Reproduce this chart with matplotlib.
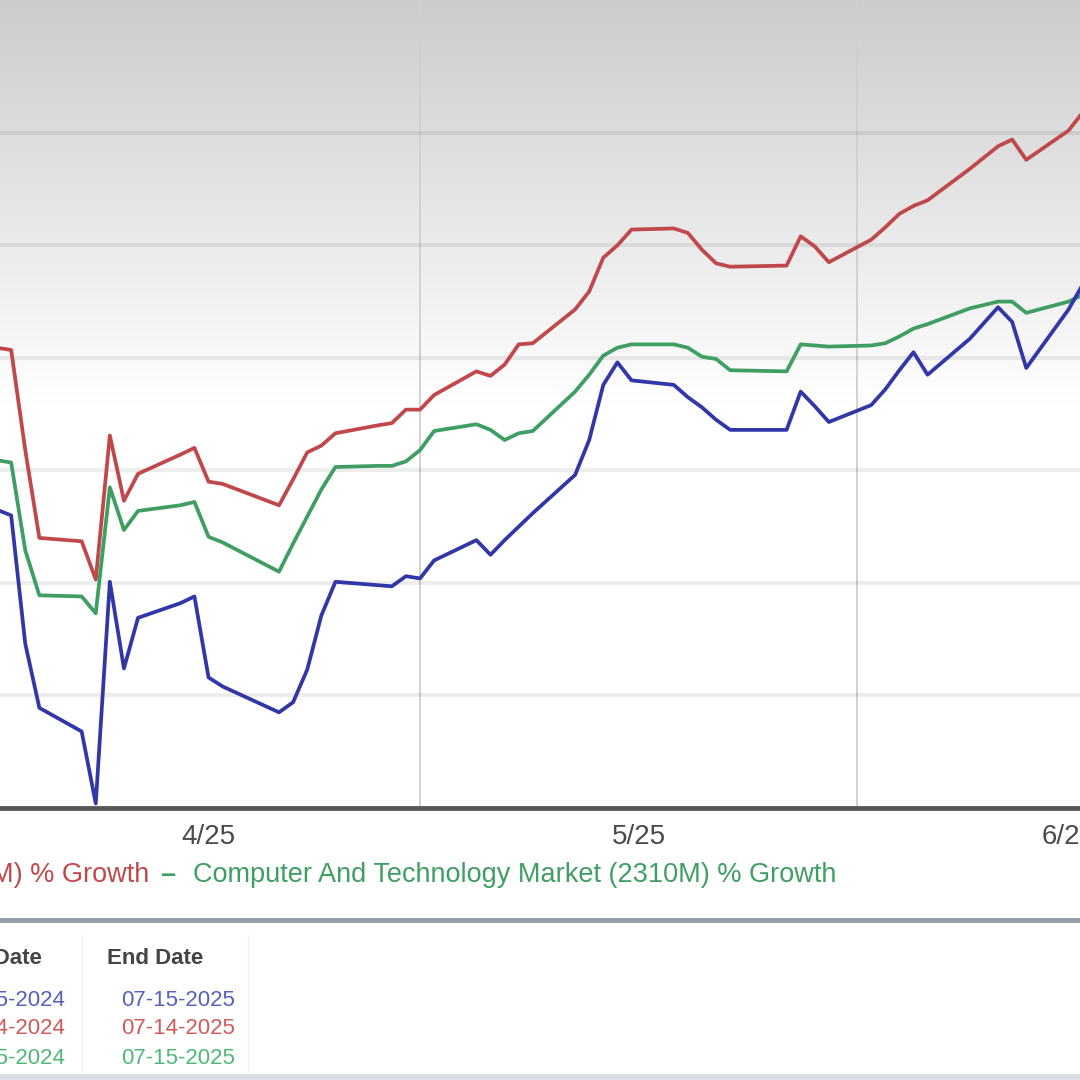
import matplotlib
matplotlib.use("Agg")
import matplotlib.pyplot as plt
from matplotlib.lines import Line2D
import numpy as np
import pandas as pd

plt.rcParams['font.family'] = ['Liberation Sans', 'DejaVu Sans']

# trading days shown in the visible window
dates = ["2025-04-01", "2025-04-02", "2025-04-03", "2025-04-04", "2025-04-07",
         "2025-04-08", "2025-04-09", "2025-04-10", "2025-04-11", "2025-04-14",
         "2025-04-15", "2025-04-16", "2025-04-17", "2025-04-21", "2025-04-22",
         "2025-04-23", "2025-04-24", "2025-04-25", "2025-04-28", "2025-04-29",
         "2025-04-30", "2025-05-01", "2025-05-02", "2025-05-05", "2025-05-06",
         "2025-05-07", "2025-05-08", "2025-05-09", "2025-05-12", "2025-05-13",
         "2025-05-14", "2025-05-15", "2025-05-16", "2025-05-19", "2025-05-20",
         "2025-05-21", "2025-05-22", "2025-05-23", "2025-05-27", "2025-05-28",
         "2025-05-29", "2025-05-30", "2025-06-02", "2025-06-03", "2025-06-04",
         "2025-06-05", "2025-06-06", "2025-06-09", "2025-06-10", "2025-06-11",
         "2025-06-12", "2025-06-13", "2025-06-16", "2025-06-17"]

# % growth
stock_growth = [-13.5, -14.0, -25.4, -31.1, -33.2, -39.6, -19.9, -27.6, -23.1, -21.8,
                -21.2, -28.4, -29.2, -31.5, -30.6, -27.7, -22.9, -19.9, -20.2, -20.3,
                -19.4, -19.6, -18.0, -16.2, -17.5, -16.2, -15.0, -13.8, -10.4, -7.3,
                -2.4, -0.4, -2.0, -2.4, -3.5, -4.4, -5.5, -6.4, -6.4, -3.0,
                -4.3, -5.7, -4.2, -2.8, -1.1, 0.5, -1.5, 1.7, 3.1, 4.5,
                3.2, -0.9, 4.3, 6.5]
industry_growth = [0.9, 0.7, -8.2, -16.0, -16.3, -19.7, -6.9, -12.7, -10.3, -8.6,
                   -8.0, -11.0, -11.2, -13.1, -10.8, -8.4, -7.8, -6.7, -6.0, -5.8,
                   -4.6, -4.6, -3.3, -1.2, -1.6, -0.6, 1.2, 1.3, 4.3, 5.9,
                   8.9, 10.0, 11.4, 11.5, 11.1, 9.6, 8.4, 8.1, 8.2, 10.8,
                   9.9, 8.5, 10.5, 11.6, 12.8, 13.5, 14.0, 16.8, 17.8, 18.8,
                   19.4, 17.6, 20.2, 21.8]
sector_growth = [-9.1, -9.3, -17.1, -21.1, -21.2, -22.7, -11.5, -15.3, -13.6, -13.1,
                 -12.8, -15.9, -16.4, -19.0, -16.5, -14.1, -11.7, -9.7, -9.6, -9.6,
                 -9.2, -8.2, -6.5, -5.9, -6.4, -7.3, -6.7, -6.5, -3.0, -1.5,
                 0.2, 0.9, 1.2, 1.2, 0.9, 0.1, -0.1, -1.1, -1.2, 1.2,
                 1.1, 1.0, 1.1, 1.3, 1.9, 2.6, 3.0, 4.4, 4.7, 5.0,
                 5.0, 4.0, 5.0, 5.6]

month_labels = ["4/25", "5/25", "6/25"]
industry_label = "M) % Growth"
sector_label = "Computer And Technology Market (2310M) % Growth"
start_dates = ["07-15-2024", "07-14-2024", "07-15-2024"]
end_dates = ["07-15-2025", "07-14-2025", "07-15-2025"]

blue = '#3237a8'
red = '#c0484a'
green = '#3f9e62'

x = pd.to_datetime(dates)

fig = plt.figure(figsize=(10.8, 10.8), dpi=100)
ax = fig.add_axes([0, 1 - 808 / 1080, 1, 808 / 1080])

# grey-to-white gradient behind the plot
frac = np.linspace(1, 0, 400)
shade = np.interp(frac, [0, 0.5, 1], [1.0, 1.0, 0.80])
grad = np.repeat(shade[:, None, None], 3, axis=2)
ax.imshow(grad, extent=[0, 1, 0, 1], transform=ax.transAxes, aspect='auto', zorder=0)

ax.plot(x, industry_growth, color=red, lw=2.7, zorder=3)
ax.plot(x, sector_growth, color=green, lw=2.7, zorder=3)
ax.plot(x, stock_growth, color=blue, lw=2.7, zorder=4)

ax.set_xlim(pd.Timestamp("2025-04-01 05:00"), pd.Timestamp("2025-06-16 19:30"))
ax.set_ylim(-40, 31.8)

ax.set_yticks([-30, -20, -10, 0, 10, 20])
ax.yaxis.grid(True, color='k', alpha=0.07, lw=3)
ax.tick_params(axis='y', left=False, labelleft=False)

month_starts = pd.to_datetime(["2025-04-01", "2025-05-01", "2025-06-01", "2025-07-01"])
mids = [month_starts[i] + (month_starts[i + 1] - month_starts[i]) / 2 for i in range(3)]
ax.set_xticks(mids)
ax.set_xticklabels(month_labels, fontsize=20, color='#4a4a4a')
ax.set_xticks(month_starts[1:3], minor=True)
ax.xaxis.grid(True, which='minor', color='#cfcfcf', lw=1.3)
ax.tick_params(axis='x', which='both', bottom=False, pad=8)

for s in ['top', 'left', 'right']:
    ax.spines[s].set_visible(False)
ax.spines['bottom'].set_color('#585858')
ax.spines['bottom'].set_linewidth(3.5)
ax.set_axisbelow(True)

# legend row
fig.text(-0.008, 1 - 875 / 1080, industry_label, color=red, fontsize=19.5, va='center')
fig.text(160 / 1080, 1 - 875 / 1080, "–", color=green, fontsize=19.5, va='center',
         fontweight='bold')
fig.text(193 / 1080, 1 - 875 / 1080, sector_label, color=green, fontsize=19.5, va='center')

fig.add_artist(Line2D([0, 1], [1 - 920 / 1080] * 2, color='#939ca5', lw=3.5))
fig.add_artist(Line2D([0, 1], [1 - 1077 / 1080] * 2, color='#d9dee3', lw=4))
for xc in [82, 248]:
    fig.add_artist(Line2D([xc / 1080] * 2, [1 - 1070 / 1080, 1 - 935 / 1080],
                          color='#f0f0f0', lw=1))

# date table
fig.text(42 / 1080, 1 - 958 / 1080, "Start Date", color='#444444', fontsize=16,
         fontweight='bold', ha='right', va='center')
fig.text(155 / 1080, 1 - 958 / 1080, "End Date", color='#444444', fontsize=16,
         fontweight='bold', ha='center', va='center')
row_colors = ['#5560c0', '#d05a5a', '#4fb878']
for i, (sd, ed) in enumerate(zip(start_dates, end_dates)):
    yy = 1 - (1000 + 29 * i) / 1080
    fig.text(65 / 1080, yy, sd, color=row_colors[i], fontsize=16, ha='right', va='center')
    fig.text(178 / 1080, yy, ed, color=row_colors[i], fontsize=16, ha='center', va='center')

fig.savefig("out.png", dpi=100)
